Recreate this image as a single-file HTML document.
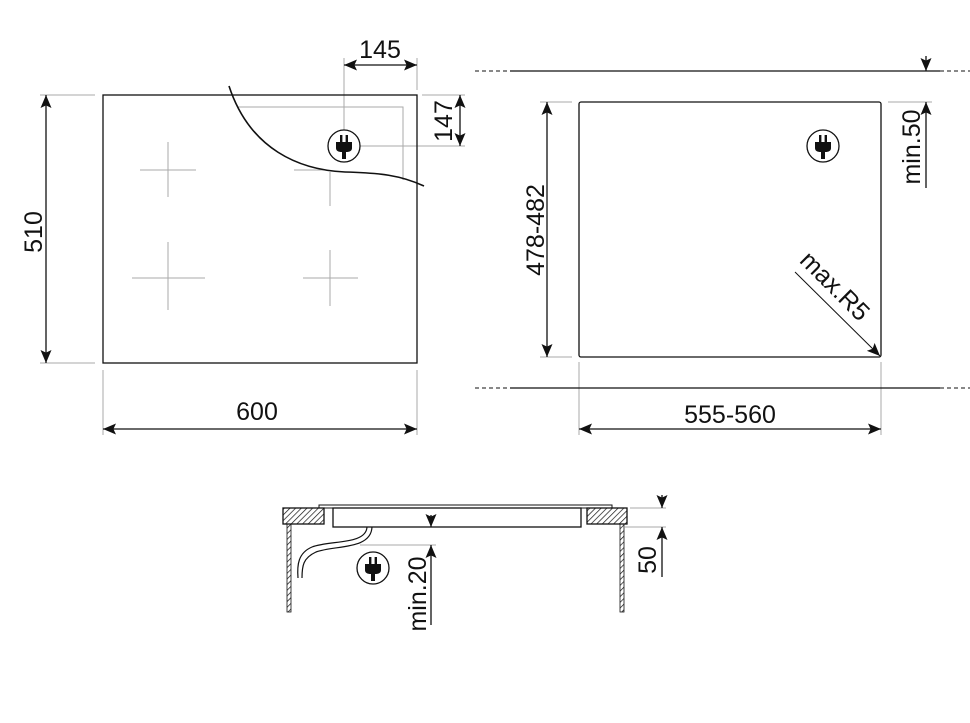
<!DOCTYPE html>
<html><head><meta charset="utf-8"><style>
html,body{margin:0;padding:0;background:#fff}
svg{display:block}
text{font-family:"Liberation Sans",sans-serif;fill:#111}
</style></head><body>
<svg width="970" height="723" viewBox="0 0 970 723" xmlns="http://www.w3.org/2000/svg">
<defs>
<marker id="a" viewBox="0 0 10 10" refX="10" refY="5" markerWidth="13" markerHeight="11" orient="auto-start-reverse" markerUnits="userSpaceOnUse" preserveAspectRatio="none"><path d="M0,0 L10,5 L0,10 L2,5 Z" fill="#111"/></marker>
<pattern id="h" width="4" height="4" patternUnits="userSpaceOnUse" patternTransform="rotate(45)"><line x1="0" y1="0" x2="0" y2="4" stroke="#111" stroke-width="1.4"/></pattern>
<g id="plug"><circle r="16" fill="#fff" stroke="#111" stroke-width="1.3"/><rect x="-4" y="-11" width="2.4" height="7" fill="#111"/><rect x="1.6" y="-11" width="2.4" height="7" fill="#111"/><path d="M-8,-4 H8 V2 Q8,6 2,6 V13 H-2 V6 Q-8,6 -8,2 Z" fill="#111"/></g>
</defs>
<g stroke="#aaa" stroke-width="1" fill="none">
<line x1="40" y1="95" x2="95" y2="95"/><line x1="40" y1="363" x2="95" y2="363"/>
<line x1="103" y1="370" x2="103" y2="435"/><line x1="417" y1="370" x2="417" y2="435"/>
<line x1="344" y1="58" x2="344" y2="130"/><line x1="417" y1="58" x2="417" y2="90"/>
<line x1="422" y1="95" x2="465" y2="95"/><line x1="360" y1="146" x2="465" y2="146"/>
<polyline points="237,107 403,107 403,180"/>
<line x1="140" y1="170" x2="196" y2="170"/><line x1="168" y1="142" x2="168" y2="197"/>
<line x1="294" y1="170" x2="326" y2="170"/><line x1="330" y1="172" x2="330" y2="206"/>
<line x1="132" y1="278" x2="205" y2="278"/><line x1="168" y1="242" x2="168" y2="310"/>
<line x1="303" y1="278" x2="358" y2="278"/><line x1="330" y1="250" x2="330" y2="306"/>
<line x1="540" y1="102" x2="572" y2="102"/><line x1="540" y1="357" x2="572" y2="357"/>
<line x1="579" y1="362" x2="579" y2="435"/><line x1="881" y1="362" x2="881" y2="435"/>
<line x1="888" y1="102" x2="932" y2="102"/>
<line x1="360" y1="545" x2="436" y2="545"/>
<line x1="630" y1="508" x2="666" y2="508"/><line x1="625" y1="527" x2="666" y2="527"/>
</g>
<g stroke="#111" stroke-width="1.3" fill="none">
<rect x="103" y="95" width="314" height="268"/>
<path d="M229,86 C250,150 300,170 345,172 C380,173 400,175 424,186" stroke-width="1.6"/>
<line x1="46" y1="95" x2="46" y2="363" marker-start="url(#a)" marker-end="url(#a)"/>
<line x1="103" y1="429" x2="417" y2="429" marker-start="url(#a)" marker-end="url(#a)"/>
<line x1="344" y1="65" x2="417" y2="65" marker-start="url(#a)" marker-end="url(#a)"/>
<line x1="460" y1="95" x2="460" y2="146" marker-start="url(#a)" marker-end="url(#a)"/>
<rect x="579" y="102" width="302" height="255" rx="2"/>
<line x1="510" y1="71" x2="940" y2="71"/><line x1="510" y1="388" x2="940" y2="388"/>
<line x1="475" y1="71" x2="510" y2="71" stroke-dasharray="4,3" stroke-width="1"/>
<line x1="940" y1="71" x2="970" y2="71" stroke-dasharray="4,3" stroke-width="1"/>
<line x1="475" y1="388" x2="510" y2="388" stroke-dasharray="4,3" stroke-width="1"/>
<line x1="940" y1="388" x2="970" y2="388" stroke-dasharray="4,3" stroke-width="1"/>
<line x1="547" y1="102" x2="547" y2="357" marker-start="url(#a)" marker-end="url(#a)"/>
<line x1="579" y1="429" x2="881" y2="429" marker-start="url(#a)" marker-end="url(#a)"/>
<line x1="926" y1="56" x2="926" y2="71" marker-end="url(#a)"/>
<line x1="926" y1="188" x2="926" y2="102" marker-end="url(#a)"/>
<line x1="795" y1="272" x2="880" y2="356" stroke-width="1" marker-end="url(#a)"/>
<rect x="319" y="505" width="293" height="3" stroke-width="1"/>
<rect x="333" y="508" width="248" height="19"/>
<rect x="283" y="508" width="41" height="16" fill="url(#h)"/>
<rect x="587" y="508" width="40" height="16" fill="url(#h)"/>
<rect x="287" y="524" width="4" height="88" fill="url(#h)" stroke-width="0.8"/>
<rect x="620" y="524" width="4" height="88" fill="url(#h)" stroke-width="0.8"/>
<path d="M367,527 C366,545 330,540 312,547 C298,553 297,565 298,578" stroke-width="1.2"/>
<path d="M372,527 C371,550 335,545 316,552 C303,558 302,566 302,578" stroke-width="1.2"/>
<line x1="431" y1="515" x2="431" y2="527" marker-end="url(#a)"/>
<line x1="431" y1="625" x2="431" y2="545" marker-end="url(#a)"/>
<line x1="662" y1="495" x2="662" y2="508" marker-end="url(#a)"/>
<line x1="662" y1="577" x2="662" y2="527" marker-end="url(#a)"/>
</g>
<use href="#plug" x="344" y="146"/>
<use href="#plug" x="823" y="146"/>
<use href="#plug" x="373" y="568"/>
<g font-size="25">
<text x="380" y="58" text-anchor="middle">145</text>
<text x="257" y="420" text-anchor="middle">600</text>
<text x="730" y="423" text-anchor="middle">555-560</text>
<text transform="translate(42,232) rotate(-90)" text-anchor="middle">510</text>
<text transform="translate(452,121) rotate(-90)" text-anchor="middle">147</text>
<text transform="translate(544,230) rotate(-90)" text-anchor="middle">478-482</text>
<text transform="translate(920,147) rotate(-90)" text-anchor="middle">min.50</text>
<text transform="translate(829,292) rotate(45)" text-anchor="middle">max.R5</text>
<text transform="translate(426,594) rotate(-90)" text-anchor="middle">min.20</text>
<text transform="translate(656,560) rotate(-90)" text-anchor="middle">50</text>
</g>
</svg>
</body></html>
